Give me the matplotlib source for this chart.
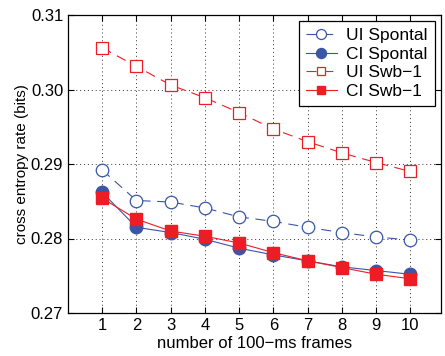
import numpy as np
import matplotlib
matplotlib.use('Agg')
import matplotlib.pyplot as plt

plt.rcParams['font.family'] = ['Liberation Sans', 'DejaVu Sans']

# 데이터
frames = [1, 2, 3, 4, 5, 6, 7, 8, 9, 10]
ui_spontal = [0.2892, 0.2851, 0.2849, 0.2841, 0.2829, 0.2823, 0.2815, 0.2808, 0.2802, 0.2798]
ci_spontal = [0.2862, 0.2815, 0.2808, 0.2799, 0.2787, 0.2778, 0.2770, 0.2762, 0.2757, 0.2752]
ui_swb1 = [0.3056, 0.3031, 0.3006, 0.2989, 0.2969, 0.2947, 0.2930, 0.2915, 0.2902, 0.2890]
ci_swb1 = [0.2854, 0.2826, 0.2810, 0.2803, 0.2794, 0.2781, 0.2770, 0.2761, 0.2752, 0.2746]
yticks = [0.27, 0.28, 0.29, 0.30, 0.31]
ytick_labels = ['0.27', '0.28', '0.29', '0.30', '0.31']

blue = '#3a56a5'
red = '#ee1c25'
dash = (0, (9, 6))

fig = plt.figure(figsize=(4.45, 3.56), dpi=100)
ax = fig.add_axes([68/445, 1 - 313/356, (441-68)/445, (313-15)/356])

ax.plot(frames, ui_spontal, color=blue, linestyle=dash, linewidth=0.8,
        marker='o', markersize=9, markerfacecolor='white', markeredgecolor=blue,
        markeredgewidth=0.9, label='UI Spontal')
ax.plot(frames, ci_spontal, color=blue, linestyle='-', linewidth=0.8,
        marker='o', markersize=9, markerfacecolor=blue, markeredgecolor=blue,
        label='CI Spontal')
ax.plot(frames, ui_swb1, color=red, linestyle=dash, linewidth=0.8,
        marker='s', markersize=8, markerfacecolor='white', markeredgecolor=red,
        markeredgewidth=0.9, label='UI Swb\u22121')
ax.plot(frames, ci_swb1, color=red, linestyle='-', linewidth=0.8,
        marker='s', markersize=8, markerfacecolor=red, markeredgecolor=red,
        label='CI Swb\u22121')

ax.set_xlim(0, 10.9)
ax.set_ylim(0.27, 0.31)
ax.set_xticks(frames)
ax.set_yticks(yticks)
ax.set_yticklabels(ytick_labels)
ax.tick_params(direction='in', top=True, right=True, labelsize=12, length=4, width=0.8)
ax.grid(True, linestyle=(0, (1, 3)), color='#333333', linewidth=0.7)
for s in ax.spines.values():
    s.set_linewidth(0.9)

ax.set_xlabel('number of 100\u2212ms frames', fontsize=12, labelpad=2)
ax.set_ylabel('cross entropy rate (bits)', fontsize=11, labelpad=1)

leg = ax.legend(loc='upper right', fontsize=12.5, fancybox=False, framealpha=1,
                edgecolor='black', handlelength=1.8, borderaxespad=0.35,
                labelspacing=0.2, handletextpad=0.55, borderpad=0.4,
                markerscale=0.8)
leg.get_frame().set_linewidth(0.9)

fig.savefig('out.png', dpi=100)
